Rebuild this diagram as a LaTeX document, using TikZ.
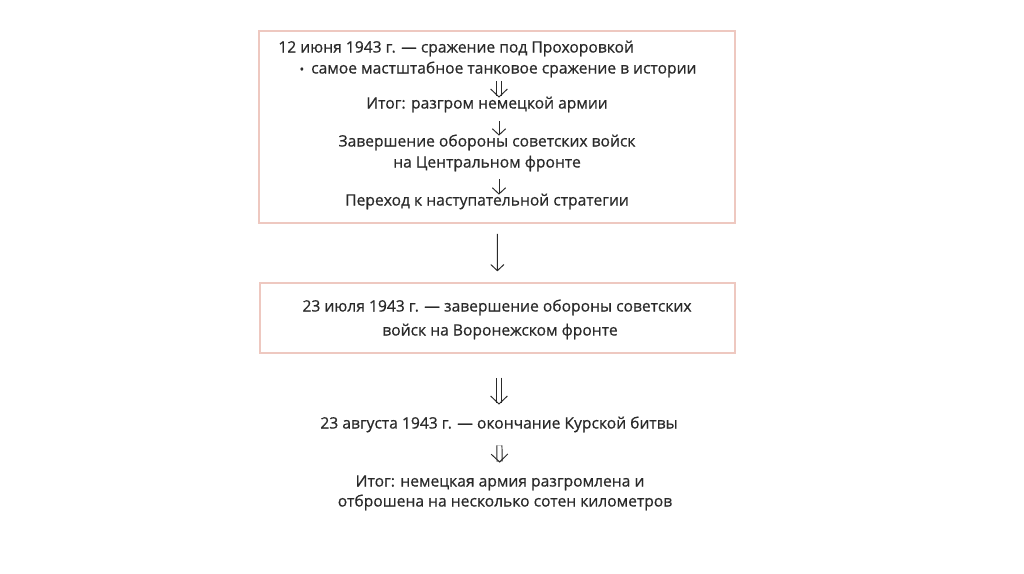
\documentclass[tikz,border=0pt]{standalone}
\usepackage{fontspec}
\setmainfont{Open Sans}[FakeBold=0.6]
\usetikzlibrary{arrows.meta}

\definecolor{boxpink}{HTML}{EEC8C0}
\definecolor{ink}{HTML}{2A2A2A}

\tikzset{
  txt/.style={inner sep=0pt, text height=6pt, text depth=2pt, text=ink,
    font=\fontsize{8.9}{10}\selectfont},
  frame/.style={draw=boxpink, line width=0.9pt, inner sep=0pt},
  onearrow/.style={draw=ink, line width=0.55pt, -{Straight Barb[length=3.5pt,width=7.5pt]}},
  twoarrow/.style={draw=ink, line width=0.55pt, double distance=2.4pt,
    -{Straight Barb[length=4.5pt,width=9.5pt]}},
}

\begin{document}
\begin{tikzpicture}[x=0.02cm,y=-0.02cm]
    \useasboundingbox[fill=white] (0,0) rectangle (1024,574);

    % first box
    \node[frame, minimum width=9.52cm, minimum height=3.84cm] (box1) at (497,127) {};
    \node[txt, anchor=west] (date1) at (278,49) {12 июня 1943 г. — сражение под Прохоровкой};
    \node[txt] (tank) at (498,70) {{\scriptsize•}\hspace{4pt}самое мастштабное танковое сражение в истории};
    \node[txt] (itog1) at (487,105) {Итог: разгром немецкой армии};
    \node[txt] (zav1) at (487,143) {Завершение обороны советских войск};
    \node[txt] (zav2) at (487,164) {на Центральном фронте};
    \node[txt] (pere) at (487,202) {Переход к наступательной стратегии};
    \coordinate (ax) at (499,0);

    \draw[twoarrow, shorten <=2pt] (tank.south -| ax) -- (itog1.north -| ax);
    \draw[onearrow, shorten <=5pt] (itog1.south -| ax) -- (zav1.north -| ax);
    \draw[onearrow, shorten <=4.5pt] (zav2.south -| ax) -- (pere.north -| ax);

    % second box
    \node[frame, minimum width=9.5cm, minimum height=1.4cm] (box2) at (497.5,318) {};
    \node[txt] (vor1) at (497,308) {23 июля 1943 г. — завершение обороны советских};
    \node[txt] (vor2) at (500,332) {войск на Воронежском фронте};

    \draw[onearrow, shorten <=5.7pt, shorten >=6.2pt] (box1) -- (box2);

    % end of the battle
    \node[txt] (aug) at (499,425) {23 августа 1943 г. — окончание Курской битвы};
    \node[txt] (itog2a) at (500,483) {Итог: немецкая армия разгромлена и};
    \node[txt] (itog2b) at (505,503) {отброшена на несколько сотен километров};

    \draw[twoarrow, shorten <=13.6pt, shorten >=7.4pt] (box2.south -| aug) -- (aug);
    \draw[twoarrow, shorten <=7.4pt, shorten >=7.4pt] (aug) -- (itog2a);
\end{tikzpicture}
\end{document}
